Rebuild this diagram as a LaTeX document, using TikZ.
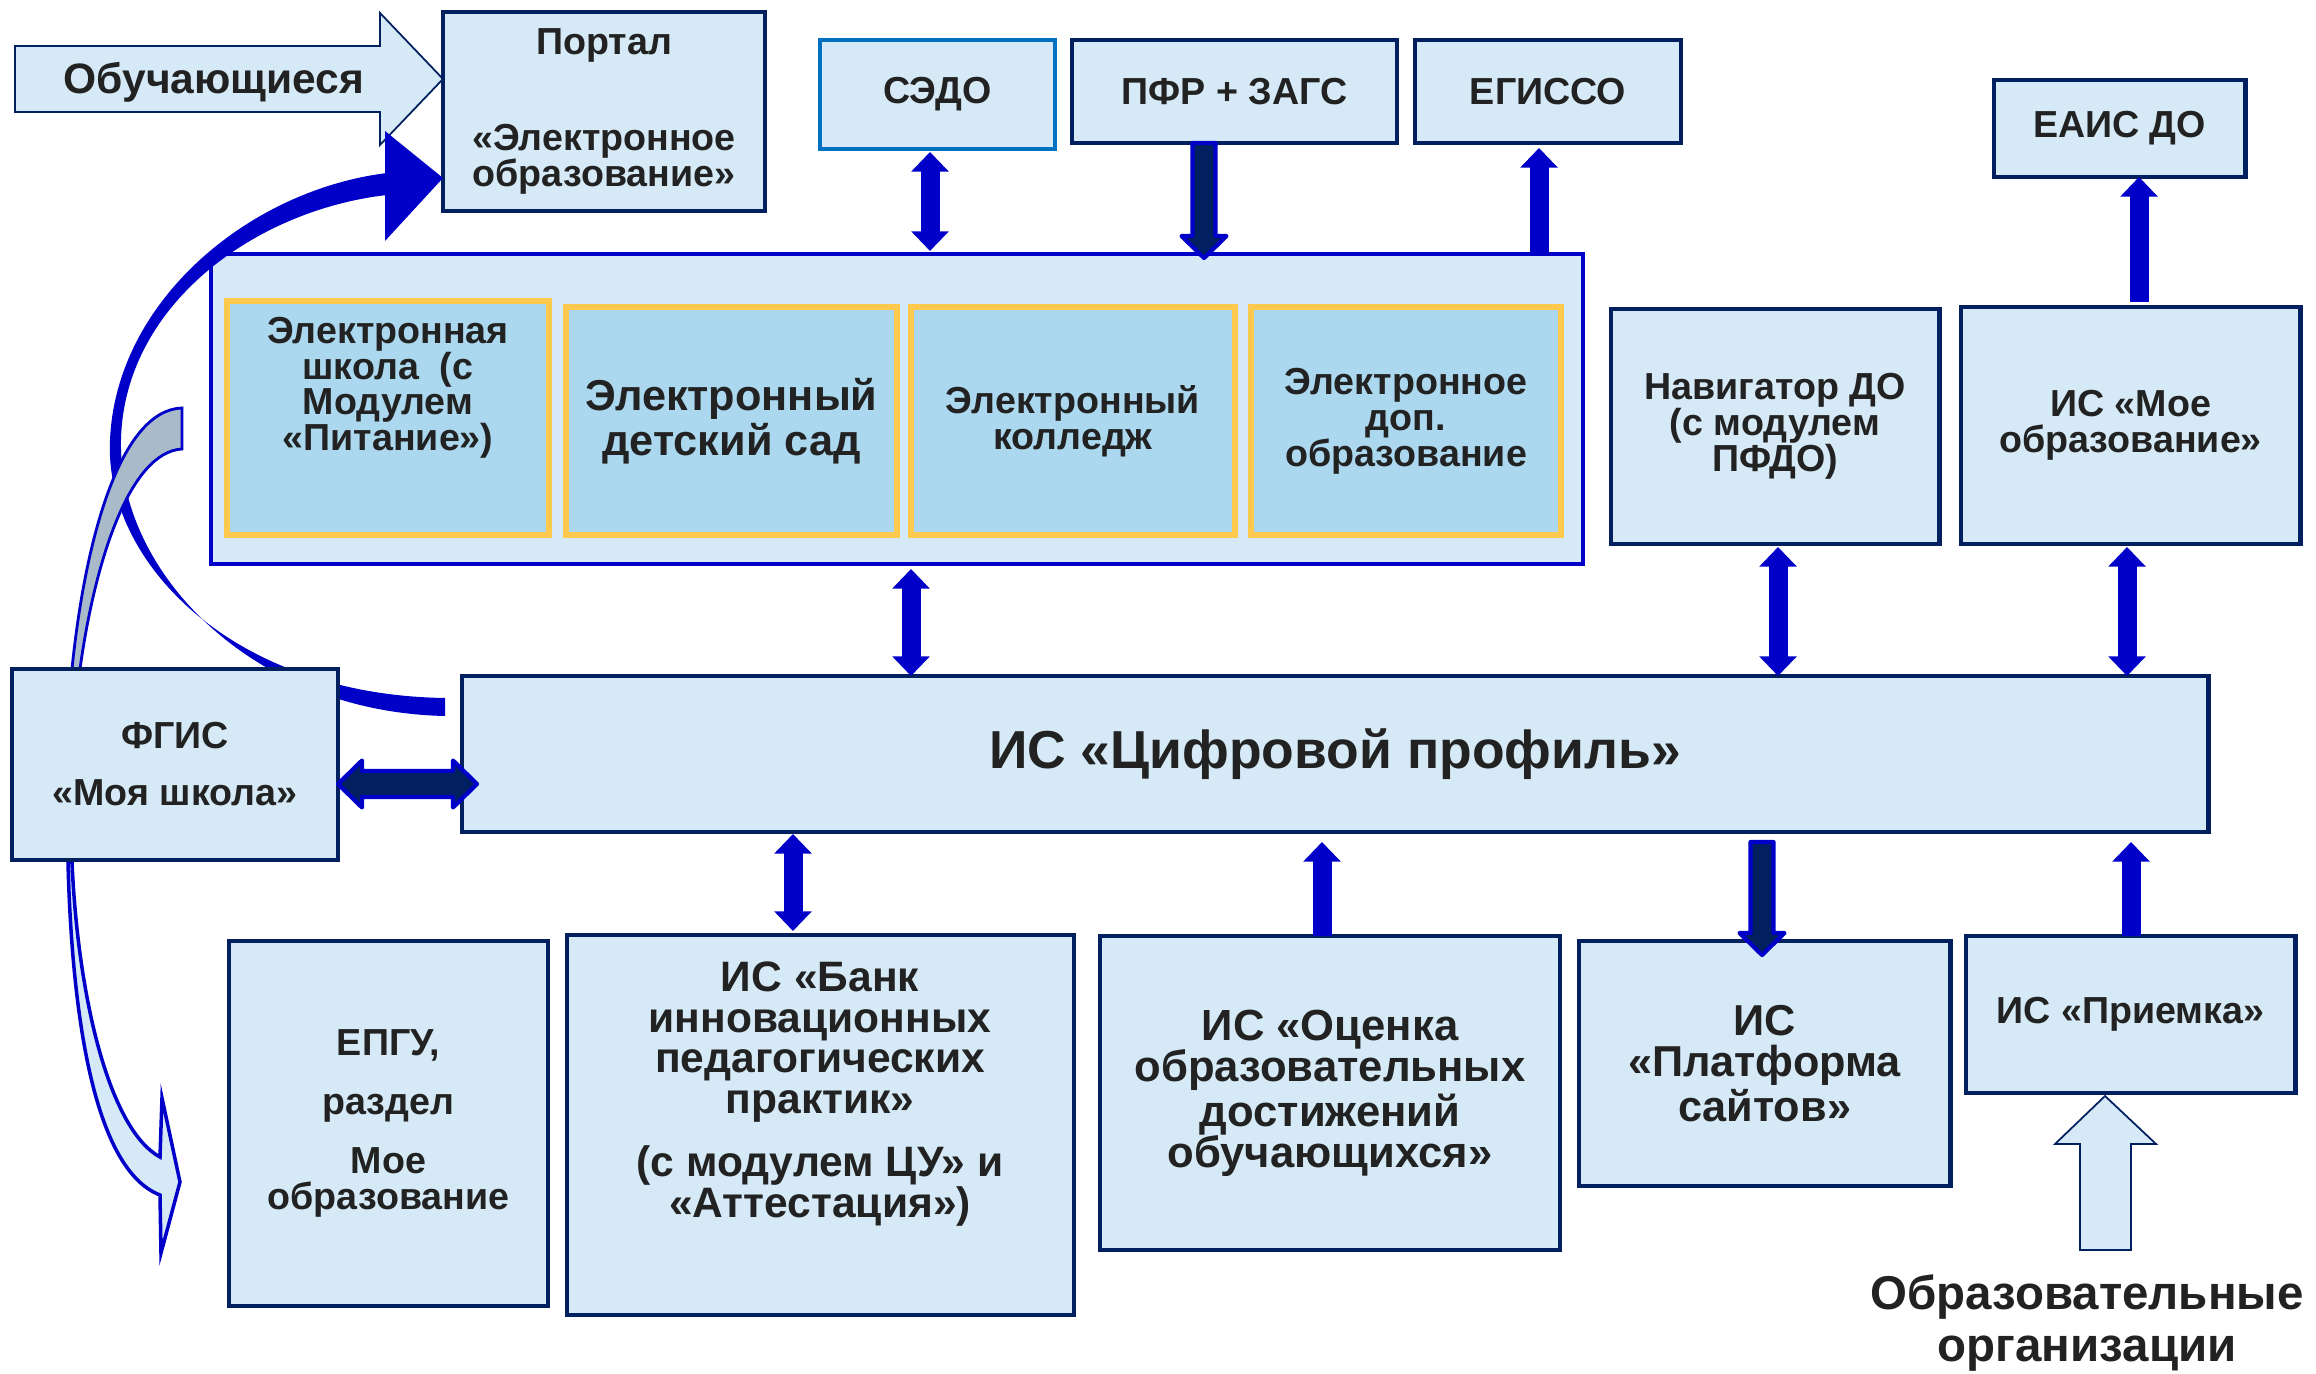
\documentclass[tikz,border=0pt]{standalone}
\usepackage{fontspec}
\setmainfont{Liberation Sans}
\usetikzlibrary{arrows.meta,calc}
\definecolor{navyc}{HTML}{022060}
\definecolor{boxfill}{HTML}{D5EAF6}
\definecolor{innerfill}{HTML}{ABD8EE}
\definecolor{yellowb}{HTML}{FFC94D}
\definecolor{bluec}{HTML}{0000C8}
\definecolor{sedob}{HTML}{0070C0}
\definecolor{greyf}{HTML}{A9BBC8}
\definecolor{txtc}{HTML}{222222}
\newcommand\fsz[2]{\fontsize{#1}{#2}\selectfont\bfseries}
\newcommand\navyvarrow[2]{%
  \coordinate (hb) at ($(#2)!0.22cm!(#1)$);
  \filldraw[navyarr] ($(#1)+(-11.5,0)$) -- ($(hb)+(-11.5,0)$) -- ($(hb)+(-22.5,0)$) -- (#2)
    -- ($(hb)+(22.5,0)$) -- ($(hb)+(11.5,0)$) -- ($(#1)+(11.5,0)$) -- cycle;}
% box node from corner coordinates (in px units)
\newcommand\bxnode[7]{%
  \pgfmathsetmacro\bxw{(#5-#3)*0.01}%
  \pgfmathsetmacro\bxh{(#6-#4)*0.01}%
  \pgfmathsetmacro\bxcx{(#3+#5)/2}%
  \pgfmathsetmacro\bxcy{(#4+#6)/2}%
  \node[#2, minimum width=\bxw cm, minimum height=\bxh cm] (#1) at (\bxcx,\bxcy) {#7};}
\begin{document}
\begin{tikzpicture}[x=0.01cm,y=-0.01cm,
  sysbox/.style={draw=navyc, line width=1.4pt, fill=boxfill, inner sep=0pt, outer sep=0pt,
    align=center, text=txtc, font=\fsz{10.7}{10.2}},
  bigtxt/.style={font=\fsz{12.3}{11.7}},
  ibox/.style={sysbox, draw=yellowb, line width=1.8pt, fill=innerfill},
  contbox/.style={sysbox, draw=bluec, line width=1.1pt},
  sedobox/.style={sysbox, draw=sedob},
  txt/.style={inner sep=0pt, align=center, text=txtc},
  bconn/.style={draw=bluec, line width=5.4pt},
  navyarr/.style={fill=navyc, draw=bluec, line width=1.2pt, line join=round},
  hollow/.style={fill=boxfill, draw=navyc, line width=0.5pt, line join=miter},
  tipA/.tip={Triangle[width=10.4pt,length=5.6pt]}]
\fill[white] (0,0) rectangle (2316,1374);
\useasboundingbox (0,0) rectangle (2316,1374);

% learners block arrow
\filldraw[hollow] (15,46) -- (380,46) -- (380,13) -- (443,79) -- (380,145) -- (380,112) -- (15,112) -- cycle;
\node[txt, font=\fsz{12.1}{12}] (learners) at (214,82) {Обучающиеся};

% top boxes
\bxnode{portal}{sysbox}{443}{12}{765}{211}{Портал\\[17pt]«Электронное\\образование»}
\bxnode{sedo}{sedobox}{820}{40}{1055}{149}{СЭДО}
\bxnode{pfr}{sysbox}{1072}{40}{1397}{143}{ПФР + ЗАГС}
\bxnode{egisso}{sysbox}{1415}{40}{1681}{143}{ЕГИССО}
\bxnode{eais}{sysbox}{1994}{80}{2245}{177}{ЕАИС ДО}

% container with inner boxes
\bxnode{cont}{contbox}{211}{254}{1583}{564}{}
\bxnode{es}{ibox}{227}{301}{549}{535}{}
\node[txt, font=\fsz{10.7}{10.1}] (esT) at (388,388) {Электронная\\школа~~(с\\Модулем\\«Питание»)};
\bxnode{ds}{ibox, bigtxt}{566}{307}{897}{535}{Электронный\\детский сад}
\bxnode{kol}{ibox}{911}{307}{1235}{535}{Электронный\\колледж}
\bxnode{dop}{ibox}{1251}{307}{1561}{535}{Электронное\\доп.\\образование}

\bxnode{nav}{sysbox}{1611}{309}{1939}{544}{Навигатор ДО\\(с модулем\\ПФДО)}
\bxnode{moe}{sysbox}{1961}{307}{2300}{544}{ИС «Мое\\образование»}

% big curved arrow (behind FGIS)
\fill[bluec] (445,698) .. controls (230,695) and (104,560) .. (110,440)
  .. controls (116,300) and (250,190) .. (387,173) -- (387,195)
  .. controls (255,210) and (124,305) .. (121,440)
  .. controls (118,570) and (250,712) .. (445,716) -- cycle;
\fill[bluec] (385,131) -- (443,178) -- (385,241) -- cycle;
% grey wedge
\filldraw[fill=greyf, draw=bluec, line width=0.8pt] (72,669) .. controls (85,540) and (120,410) .. (182,408)
  -- (182,449) .. controls (130,452) and (95,560) .. (80,669) -- cycle;
% down curved arrow
\filldraw[fill=boxfill, draw=bluec, line width=1pt, line join=miter] (68,862) .. controls (72,1020) and (95,1170) .. (160,1195)
  -- (161,1253) -- (180,1182) -- (162,1098) -- (160,1157)
  .. controls (110,1130) and (78,1000) .. (72,862) -- cycle;

\bxnode{cp}{sysbox, font=\fsz{15.2}{15}}{462}{676}{2208}{832}{ИС «Цифровой профиль»}
\bxnode{fgis}{sysbox}{12}{669}{338}{860}{ФГИС\\[6pt]«Моя школа»}

% bottom boxes
\bxnode{epgu}{sysbox}{229}{941}{548}{1306}{ЕПГУ,\\[6.5pt]раздел\\[6.5pt]Мое\\образование}
\bxnode{bank}{sysbox}{567}{935}{1074}{1315}{}
\node[txt, font=\fsz{12.1}{11.6}] (bankT) at (820,1094) {ИС «Банк\\инновационных\\педагогических\\практик»\\[6.4pt](с модулем ЦУ» и\\«Аттестация»)};
\bxnode{ocenka}{sysbox, font=\fsz{12.4}{11.6}}{1100}{936}{1560}{1250}{ИС «Оценка\\образовательных\\достижений\\обучающихся»}
\bxnode{plat}{sysbox, bigtxt}{1579}{941}{1950}{1186}{ИС\\«Платформа\\сайтов»}
\bxnode{priem}{sysbox}{1966}{936}{2295}{1093}{ИС «Приемка»}

% organisations hollow arrow
\filldraw[hollow] (2080,1250) -- (2080,1144) -- (2055,1144) -- (2105,1096) -- (2156,1144) -- (2131,1144) -- (2131,1250) -- cycle;
\node[txt, font=\fsz{13.5}{14.7}] (orgs) at (2087,1323) {Образовательные\\организации};

% x positions of connectors
\coordinate (xSedo) at (930,0);
\coordinate (xPfr) at (1204,0);
\coordinate (xEg) at (1539,0);
\coordinate (xEais) at (2139,0);
\coordinate (xCont) at (911,0);
\coordinate (xNav) at (1778,0);
\coordinate (xMoe) at (2127,0);
\coordinate (xBank) at (793,0);
\coordinate (xOc) at (1322,0);
\coordinate (xPl) at (1762,0);
\coordinate (xPr) at (2131,0);
\coordinate (yF) at (0,784);

\draw[bconn, tipA-tipA] ($(sedo.south -| xSedo)+(0,3)$) -- ($(cont.north -| xSedo)+(0,-3)$);
\coordinate (pfrA) at (pfr.south -| xPfr);
\coordinate (pfrB) at ($(cont.north -| xPfr)+(0,4)$);
\navyvarrow{pfrA}{pfrB}
\draw[bconn, -tipA] (cont.north -| xEg) -- ($(egisso.south -| xEg)+(0,5)$);
\draw[bconn, -tipA] ($(moe.north -| xEais)+(0,-5)$) -- (eais.south -| xEais);
\draw[bconn, tipA-tipA] ($(cont.south -| xCont)+(0,5)$) -- (cp.north -| xCont);
\draw[bconn, tipA-tipA] ($(nav.south -| xNav)+(0,3)$) -- (cp.north -| xNav);
\draw[bconn, tipA-tipA] ($(moe.south -| xMoe)+(0,3)$) -- (cp.north -| xMoe);
\draw[bconn, tipA-tipA] ($(cp.south -| xBank)+(0,2)$) -- ($(bank.north -| xBank)+(0,-4)$);
\draw[bconn, -tipA] (ocenka.north -| xOc) -- ($(cp.south -| xOc)+(0,10)$);
\coordinate (plA) at ($(cp.south -| xPl)+(0,10)$);
\coordinate (plB) at ($(plat.north -| xPl)+(0,14)$);
\navyvarrow{plA}{plB}
\draw[bconn, -tipA] (priem.north -| xPr) -- ($(cp.south -| xPr)+(0,10)$);
% FGIS <-> profile
\coordinate (fA) at (fgis.east |- yF);
\coordinate (fB) at ($(cp.west |- yF)+(15,0)$);
\filldraw[navyarr] (fA) -- ($(fA)+(24,-23.5)$) -- ($(fA)+(24,-13)$) -- ($(fB)+(-24,-13)$) -- ($(fB)+(-24,-23.5)$)
  -- (fB) -- ($(fB)+(-24,23.5)$) -- ($(fB)+(-24,13)$) -- ($(fA)+(24,13)$) -- ($(fA)+(24,23.5)$) -- cycle;
\end{tikzpicture}
\end{document}
